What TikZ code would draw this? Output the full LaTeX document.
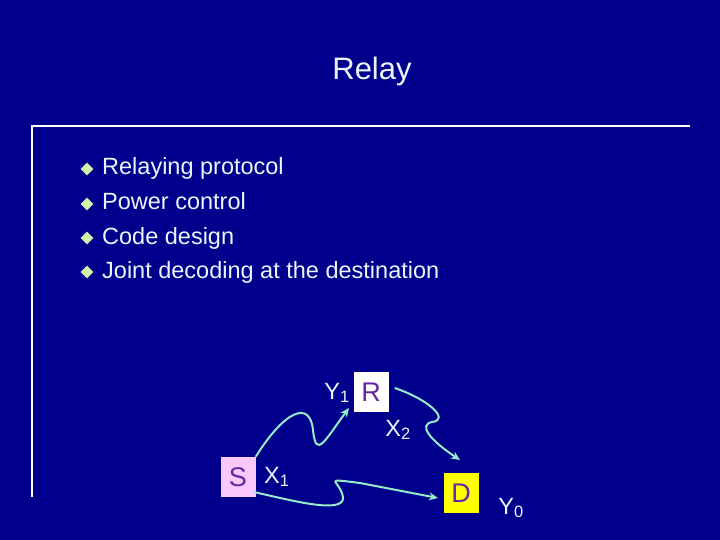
\documentclass[tikz,border=0pt]{standalone}
\usepackage{fontspec}
\setmainfont{Liberation Sans}
\usetikzlibrary{shapes.geometric,arrows.meta}
\definecolor{bg}{RGB}{0,0,140}
\definecolor{txt}{RGB}{235,245,250}
\definecolor{bul}{RGB}{210,240,170}
\definecolor{arr}{RGB}{150,235,200}
\definecolor{pinkbox}{RGB}{250,200,250}
\definecolor{ybox}{RGB}{255,255,0}
\definecolor{letter}{RGB}{100,40,160}
\begin{document}
\begin{tikzpicture}[x=1pt,y=-1pt,
  lbl/.style={text=txt,font=\fontsize{23.5}{26}\selectfont,inner sep=0pt,text height=17pt,text depth=5pt},
  bullet/.style={diamond,fill=bul,minimum size=13pt,inner sep=0pt},
  box/.style={minimum width=35pt,minimum height=40pt,inner sep=0pt,font=\fontsize{27}{30}\selectfont,text=letter},
  wave/.style={draw=arr,line width=2pt,-{Stealth[length=9pt,width=8pt]}}]
\fill[bg] (0,0) rectangle (720,540);
\useasboundingbox (0,0) rectangle (720,540);
\node[text=txt,font=\fontsize{31}{34}\selectfont] (title) at (372,71) {Relay};
\draw[white,line width=1.5pt] (32,497) -- (32,126) -- (690,126);
\foreach \t/\y [count=\i] in {Relaying protocol/169,Power control/204,Code design/238,Joint decoding at the destination/272}{
  \node[bullet] (b\i) at (87,\y) {};
  \node[lbl,anchor=west] (t\i) at (102,\y) {\t};
}
\node[box,fill=pinkbox] (S) at (238,477) {S};
\node[box,fill=white] (R) at (371,392) {R};
\node[box,fill=ybox] (D) at (461,493) {D};
\node[lbl,anchor=west] (x1) at (264,477) {X\textsubscript{1}};
\node[lbl] (y1) at (337,393) {Y\textsubscript{1}};
\node[lbl] (x2) at (398,430) {X\textsubscript{2}};
\node[lbl] (y0) at (511,508) {Y\textsubscript{0}};
\draw[wave] (S.north east) .. controls (285,410) and (310,400) .. (313,430)
  .. controls (316,460) and (325,440) .. (349,408);
\draw[wave] (S.east) ++(-2,15) coordinate (s2) (s2) .. controls (290,500) and (345,515) .. (343,497)
  .. controls (340,480) and (320,478) .. (360,483) -- (438,498);
\draw[wave] (R.east) ++(6,-4) coordinate (r2) (r2) .. controls (430,400) and (450,420) .. (432,422)
  .. controls (418,425) and (430,440) .. (460,460);
\end{tikzpicture}
\end{document}
